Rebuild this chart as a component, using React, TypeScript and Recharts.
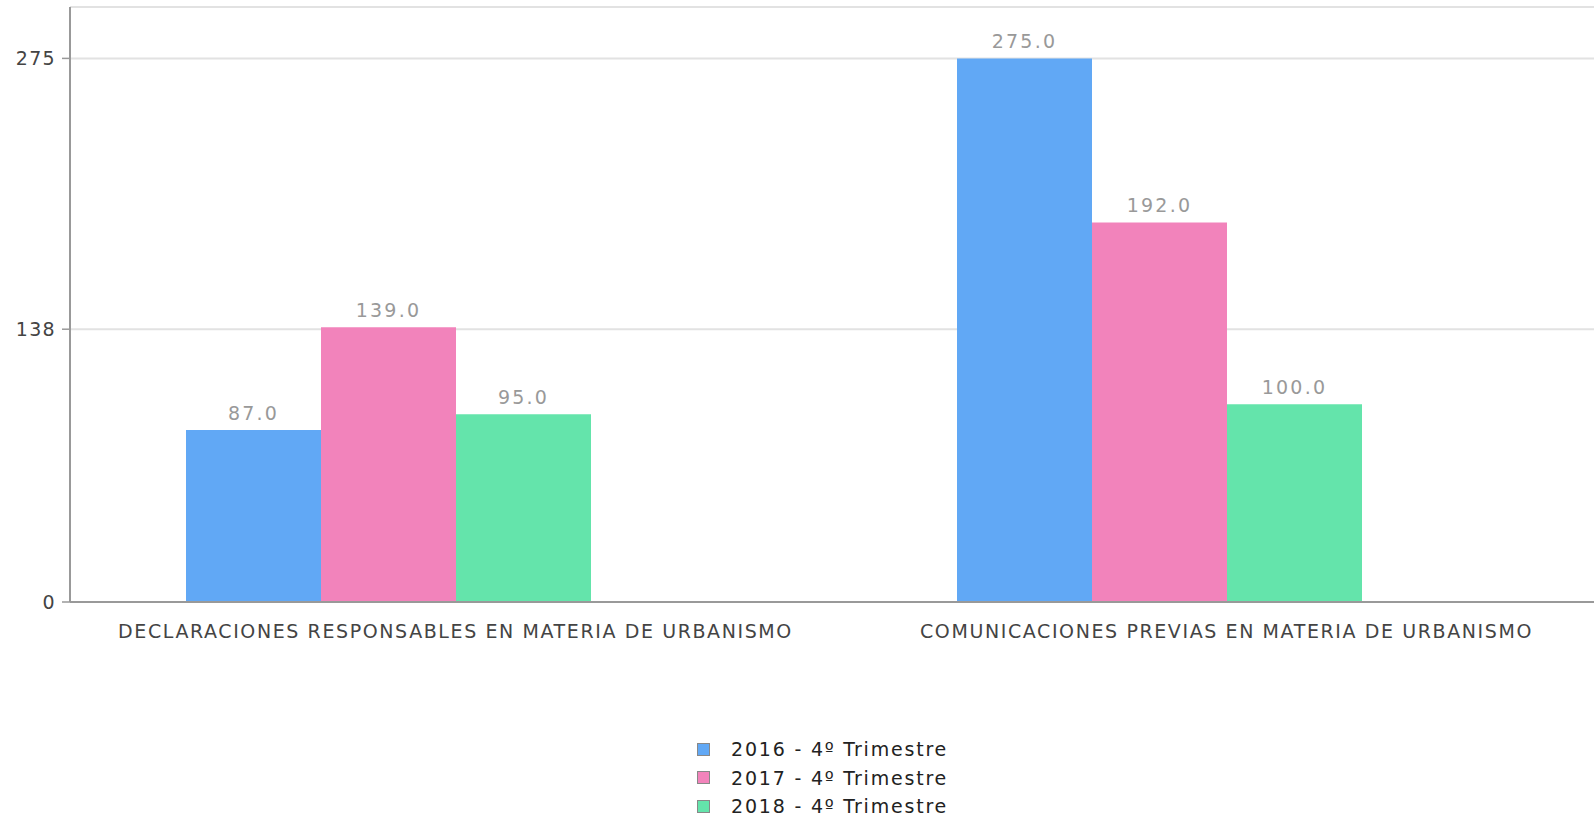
import React from 'react'
import { BarChart, Bar, XAxis, YAxis, CartesianGrid, LabelList } from 'recharts'

const categories = [
  'DECLARACIONES RESPONSABLES EN MATERIA DE URBANISMO',
  'COMUNICACIONES PREVIAS EN MATERIA DE URBANISMO',
]
const seriesNames = ['2016 - 4º Trimestre', '2017 - 4º Trimestre', '2018 - 4º Trimestre']
const seriesColors = ['#61a8f5', '#f283bb', '#64e4ab']
const values2016 = [87, 275]
const values2017 = [139, 192]
const values2018 = [95, 100]
// empty slot kept by the original chart, draws nothing
const valuesEmpty: (number | null)[] = [null, null]
const yTicks = [0, 138, 275]

const data = categories.map((name, i) => ({
  name,
  s0: values2016[i],
  s1: values2017[i],
  s2: values2018[i],
  s3: valuesEmpty[i],
}))

const font = '"DejaVu Sans", sans-serif'

export default function App() {
  return (
    <div
      style={{
        position: 'fixed',
        left: 0,
        top: 0,
        width: 1594,
        height: 819,
        overflow: 'hidden',
        background: '#fff',
        fontFamily: font,
      }}
    >
      <BarChart
        width={1612}
        height={700}
        data={data}
        margin={{ top: 7, right: 0, left: 0, bottom: 0 }}
        barGap={0}
        barSize={135}
      >
        <CartesianGrid vertical={false} stroke="#e2e2e2" strokeWidth={2} />
        <XAxis
          dataKey="name"
          height={98}
          tickLine={false}
          axisLine={{ stroke: '#999', strokeWidth: 2 }}
          tickMargin={17}
          tick={{ fontSize: 19, fill: '#444', fontFamily: font, letterSpacing: 1.6 }}
          interval={0}
        />
        <YAxis
          width={70}
          domain={[0, 301]}
          ticks={yTicks}
          tickSize={8}
          tickMargin={6}
          axisLine={{ stroke: '#999', strokeWidth: 2 }}
          tickLine={{ stroke: '#999', strokeWidth: 1.5 }}
          tick={{ fontSize: 19, fill: '#444', fontFamily: font, letterSpacing: 1.3 }}
        />
        {seriesColors.map((c, i) => (
          <Bar key={i} dataKey={`s${i}`} fill={c} isAnimationActive={false}>
            <LabelList
              dataKey={`s${i}`}
              position="top"
              offset={10}
              formatter={(v: number) => v.toFixed(1)}
              style={{ fontSize: 19, fill: '#999', fontFamily: font, letterSpacing: 2.2 }}
            />
          </Bar>
        ))}
        <Bar dataKey="s3" fill="none" isAnimationActive={false} />
      </BarChart>

      <div style={{ position: 'absolute', left: 697, top: 735 }}>
        {seriesNames.map((n, i) => (
          <div key={n} style={{ display: 'flex', alignItems: 'center', height: 28.5 }}>
            <span
              style={{
                width: 11,
                height: 11,
                background: seriesColors[i],
                border: '1.5px solid #888',
                marginRight: 21,
              }}
            />
            <span style={{ fontSize: 19, color: '#222', letterSpacing: 1.8 }}>{n}</span>
          </div>
        ))}
      </div>
    </div>
  )
}
